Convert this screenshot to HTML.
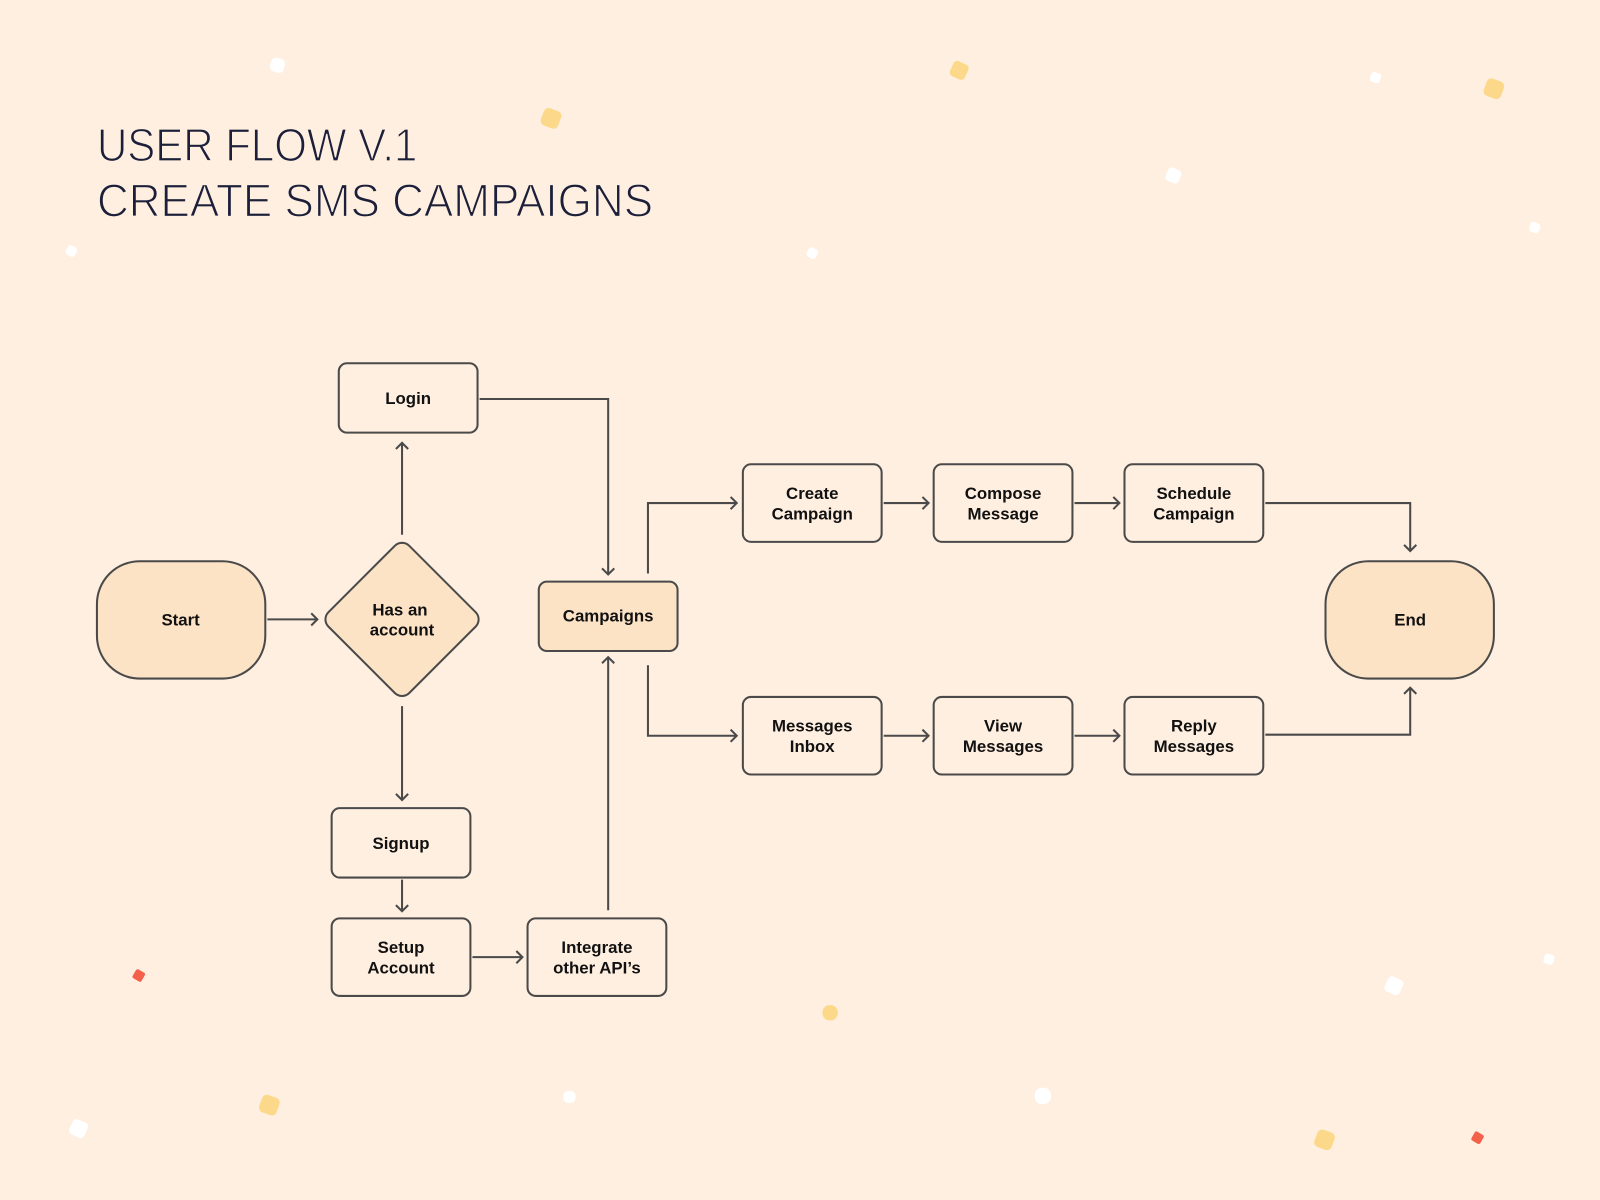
<!DOCTYPE html>
<html><head><meta charset="utf-8"><style>
html,body{margin:0;padding:0;background:#ffefe0;}
svg{display:block}
text{font-family:"Liberation Sans","DejaVu Sans",sans-serif;}
.l{font-weight:bold;font-size:16.5px;fill:#111;text-anchor:middle}
.t{font-size:45px;fill:#1c1f3a;stroke:#ffefe0;stroke-width:1.3px;paint-order:normal}
</style></head><body>
<svg width="1600" height="1200" viewBox="0 0 1568 1176" xmlns="http://www.w3.org/2000/svg">
<rect width="1568" height="1176" fill="#ffefe0"/>
<g fill="#ffffff">
<rect x="265" y="57" width="14" height="14" rx="5" transform="rotate(15 272 64)"/>
<rect x="1343" y="71" width="10" height="10" rx="3" transform="rotate(20 1348 76)"/>
<rect x="1143" y="165" width="14" height="14" rx="4" transform="rotate(25 1150 172)"/>
<rect x="1499" y="218" width="10" height="10" rx="3" transform="rotate(20 1504 223)"/>
<rect x="791" y="243" width="10" height="10" rx="3" transform="rotate(30 796 248)"/>
<rect x="65" y="241" width="10" height="10" rx="3" transform="rotate(30 70 246)"/>
<rect x="1513" y="935" width="10" height="10" rx="3" transform="rotate(20 1518 940)"/>
<rect x="1358" y="958" width="16" height="16" rx="4" transform="rotate(25 1366 966)"/>
<rect x="552" y="1069" width="12" height="12" rx="5"/>
<rect x="1014" y="1066" width="16" height="16" rx="7"/>
<rect x="69" y="1098" width="16" height="16" rx="4" transform="rotate(25 77 1106)"/>
</g>
<g fill="#fcd98a">
<rect x="531" y="107" width="18" height="18" rx="5" transform="rotate(20 540 116)"/>
<rect x="932" y="61" width="16" height="16" rx="4" transform="rotate(25 940 69)"/>
<rect x="1455" y="78" width="18" height="18" rx="5" transform="rotate(20 1464 87)"/>
<rect x="806" y="985" width="15" height="15" rx="7"/>
<rect x="255" y="1074" width="18" height="18" rx="5" transform="rotate(20 264 1083)"/>
<rect x="1289" y="1108" width="18" height="18" rx="5" transform="rotate(20 1298 1117)"/>
</g>
<g fill="#f4614b">
<rect x="131" y="951" width="10" height="10" rx="2" transform="rotate(30 136 956)"/>
<rect x="1443" y="1110" width="10" height="10" rx="2" transform="rotate(30 1448 1115)"/>
</g>
<text class="t" x="95" y="158" textLength="314" lengthAdjust="spacingAndGlyphs">USER FLOW V.1</text>
<text class="t" x="95" y="212" textLength="545" lengthAdjust="spacingAndGlyphs">CREATE SMS CAMPAIGNS</text>
<g fill="none" stroke="#4a4a4a" stroke-width="2">
<path d="M262 607H311M305 601l6 6-6 6"/>
<path d="M394 524V434M388 440l6-6 6 6"/>
<path d="M470 391H596V563M590 557l6 6 6-6"/>
<path d="M635 562V493H722M716 487l6 6-6 6"/>
<path d="M866 493H910M904 487l6 6-6 6"/>
<path d="M1053 493H1097M1091 487l6 6-6 6"/>
<path d="M1240 493H1382V540M1376 534l6 6 6-6"/>
<path d="M635 652V721H722M716 715l6 6-6 6"/>
<path d="M866 721H910M904 715l6 6-6 6"/>
<path d="M1053 721H1097M1091 715l6 6-6 6"/>
<path d="M1240 720H1382V674M1376 680l6-6 6 6"/>
<path d="M394 692V784M388 778l6 6 6-6"/>
<path d="M394 862V893M388 887l6 6 6-6"/>
<path d="M463 938H512M506 932l6 6-6 6"/>
<path d="M596 892V644M590 650l6-6 6 6"/>
</g>
<g stroke="#4a4a4a" stroke-width="2">
<rect x="95" y="550" width="165" height="115" rx="42" fill="#fde3c5"/>
<rect x="1299" y="550" width="165" height="115" rx="42" fill="#fde3c5"/>
<rect x="338" y="551" width="112" height="112" rx="10" fill="#fde3c5" transform="rotate(45 394 607)"/>
<rect x="332" y="356" width="136" height="68" rx="8" fill="#ffefe0"/>
<rect x="528" y="570" width="136" height="68" rx="8" fill="#fde3c5"/>
<rect x="728" y="455" width="136" height="76" rx="8" fill="#ffefe0"/>
<rect x="915" y="455" width="136" height="76" rx="8" fill="#ffefe0"/>
<rect x="1102" y="455" width="136" height="76" rx="8" fill="#ffefe0"/>
<rect x="728" y="683" width="136" height="76" rx="8" fill="#ffefe0"/>
<rect x="915" y="683" width="136" height="76" rx="8" fill="#ffefe0"/>
<rect x="1102" y="683" width="136" height="76" rx="8" fill="#ffefe0"/>
<rect x="325" y="792" width="136" height="68" rx="8" fill="#ffefe0"/>
<rect x="325" y="900" width="136" height="76" rx="8" fill="#ffefe0"/>
<rect x="517" y="900" width="136" height="76" rx="8" fill="#ffefe0"/>
</g>
<text class="l" x="177" y="613">Start</text>
<text class="l" x="1382" y="613">End</text>
<text class="l" x="392" y="603">Has an</text>
<text class="l" x="394" y="623">account</text>
<text class="l" x="400" y="396">Login</text>
<text class="l" x="596" y="609">Campaigns</text>
<text class="l" x="796" y="489">Create</text><text class="l" x="796" y="509">Campaign</text>
<text class="l" x="983" y="489">Compose</text><text class="l" x="983" y="509">Message</text>
<text class="l" x="1170" y="489">Schedule</text><text class="l" x="1170" y="509">Campaign</text>
<text class="l" x="796" y="717">Messages</text><text class="l" x="796" y="737">Inbox</text>
<text class="l" x="983" y="717">View</text><text class="l" x="983" y="737">Messages</text>
<text class="l" x="1170" y="717">Reply</text><text class="l" x="1170" y="737">Messages</text>
<text class="l" x="393" y="832">Signup</text>
<text class="l" x="393" y="934">Setup</text><text class="l" x="393" y="954">Account</text>
<text class="l" x="585" y="934">Integrate</text><text class="l" x="585" y="954">other API’s</text>
</svg>
</body></html>
